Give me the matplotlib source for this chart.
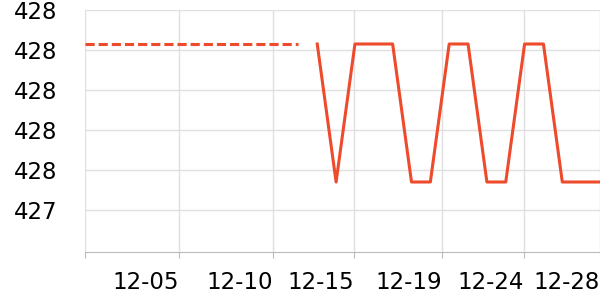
import numpy as np
import matplotlib
matplotlib.use('Agg')
import matplotlib.pyplot as plt
from matplotlib.ticker import FormatStrFormatter

# values
hi = 428.23
lo = 427.54

# dashed (earlier) segment
dash_x = [-0.32, 11]
dash_y = [hi, hi]

# solid series, one point per step
solid_x = list(range(12, 28))
solid_y = [hi, lo, hi, hi, hi, lo, lo, hi, hi, lo, lo, hi, hi, lo, lo, lo]

# x tick positions and labels
tick_pos = [-0.32, 4.68, 9.67, 13.97, 18.6, 22.98, 27]
tick_labels = ['', '12-05', '12-10', '12-15', '12-19', '12-24', '12-28']
y_ticks = [427.4, 427.6, 427.8, 428.0, 428.2, 428.4]

color = '#ee4a2c'

fig = plt.figure(figsize=(6, 3), dpi=100)
ax = fig.add_axes([85/600, 48/300, 515/600, 242/300])

ax.plot(dash_x, dash_y, color=color, lw=2.2, dashes=(3, 1.3))
ax.plot(solid_x, solid_y, color=color, lw=2.2)

ax.set_xlim(-0.32, 27)
ax.set_ylim(427.19, 428.4)

ax.set_yticks(y_ticks)
ax.yaxis.set_major_formatter(FormatStrFormatter('%.0f'))
ax.set_xticks(tick_pos)
ax.set_xticklabels(tick_labels, ha='right')

ax.grid(True, color='#e0e0e0', lw=1)
ax.set_axisbelow(True)
for s in ['top', 'right', 'left']:
    ax.spines[s].set_visible(False)
ax.spines['bottom'].set_color('#bbbbbb')
ax.tick_params(axis='y', length=0, pad=20, labelsize=16.5)
ax.tick_params(axis='x', length=4, color='#bbbbbb', pad=10, labelsize=16.5)

fig.savefig('out.png', dpi=100)
